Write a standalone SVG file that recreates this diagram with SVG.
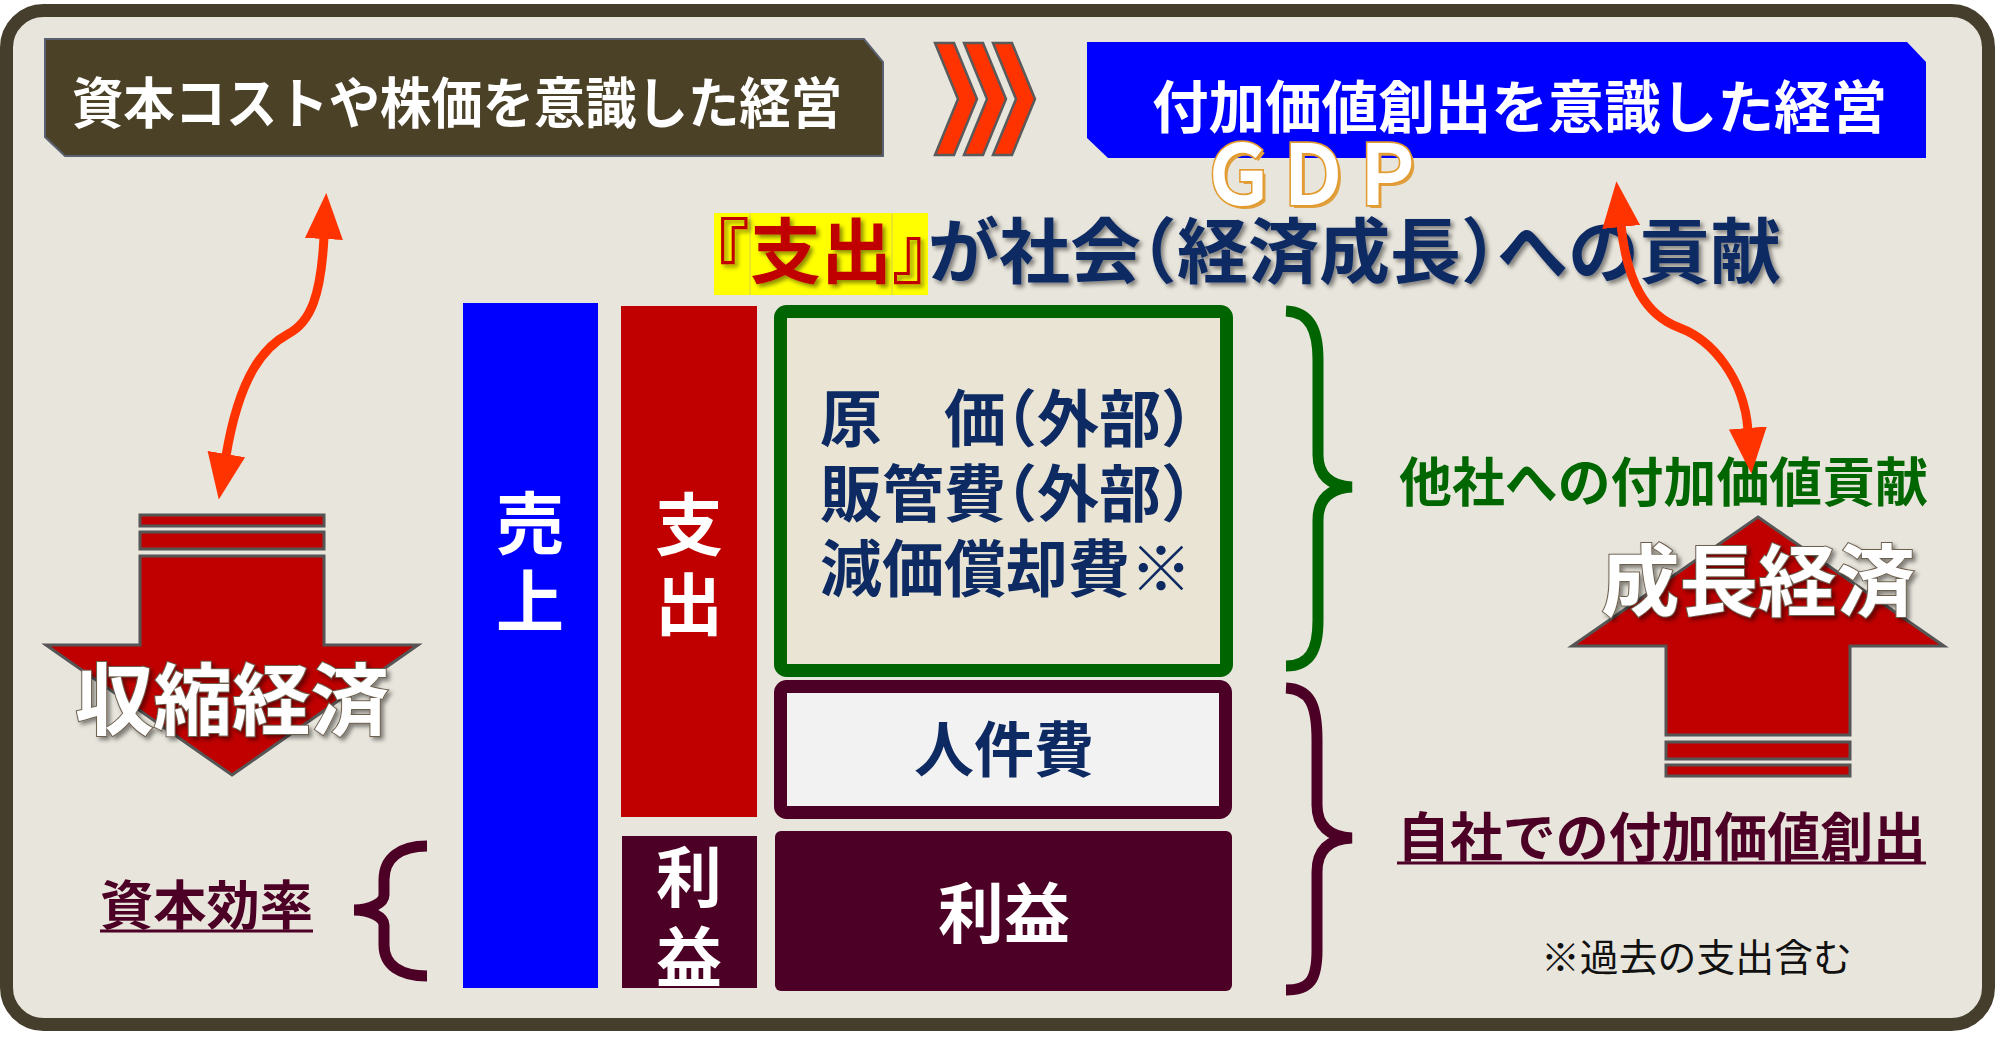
<svg xmlns="http://www.w3.org/2000/svg" width="2000" height="1038" viewBox="0 0 2000 1038">
<defs>
<style>
.jp{font-family:"Noto Sans CJK JP","Noto Sans CJK SC",sans-serif;}
.b{font-weight:700;}
.navy{fill:#0E2A63;}
.wh{fill:#FFFFFF;}
.bar{stroke:none;}
.arrow{fill:#C00000;stroke:#555555;stroke-width:3;stroke-linejoin:miter;}
.chev{fill:#FF3300;stroke:#5A5A5A;stroke-width:2.5;stroke-linejoin:miter;}
.brace{fill:none;stroke-width:11;stroke-linecap:butt;}
.curve{fill:none;stroke:#FF3300;stroke-width:9;marker-start:url(#ah);marker-end:url(#ah);}
.big{font-size:78px;font-weight:700;fill:#FFFFFF;stroke:#6E6050;stroke-width:2;paint-order:stroke;}
</style>
<filter id="sh" x="-10%" y="-20%" width="130%" height="150%">
<feDropShadow dx="3" dy="3" stdDeviation="2" flood-color="#000000" flood-opacity="0.45"/>
</filter>
<marker id="ah" viewBox="0 -20 46 40" refX="2" refY="0" markerWidth="46" markerHeight="40" markerUnits="userSpaceOnUse" orient="auto-start-reverse">
<path d="M0,-19 L46,0 L0,19 Z" fill="#FF3300"/>
</marker>
</defs>
<rect x="0" y="0" width="2000" height="1038" fill="#FFFFFF"/>
<rect id="frame" x="6.5" y="10.5" width="1982" height="1014" rx="37" fill="#E8E5DC" stroke="#463E2C" stroke-width="13"/>

<g id="box-left">
<path d="M45,39 L864,39 L883,62 L883,156 L65,156 L45,137 Z" fill="#4A4127" stroke="#5B6070" stroke-width="2"/>
<text class="jp b wh" x="72" y="123" font-size="55" textLength="770" lengthAdjust="spacingAndGlyphs">資本コストや株価を意識した経営</text>
</g>

<g id="chevrons">
<polygon class="chev" points="935,43 954,43 977,99 954,155 935,155 958,99"/>
<polygon class="chev" points="964,43 983,43 1006,99 983,155 964,155 987,99"/>
<polygon class="chev" points="993,43 1012,43 1035,99 1012,155 993,155 1016,99"/>
</g>

<g id="box-right">
<path d="M1087,42 L1907,42 L1926,62 L1926,158 L1108,158 L1087,138 Z" fill="#0000FF"/>
<text class="jp b wh" x="1152" y="128" font-size="57" textLength="735" lengthAdjust="spacingAndGlyphs">付加価値創出を意識した経営</text>
</g>

<g id="gdp">
<text class="jp b" x="1204" y="208" font-size="84" fill="#E0A040" textLength="224" lengthAdjust="spacingAndGlyphs">ＧＤＰ</text>
<text class="jp b" x="1201" y="205" font-size="84" fill="#FFFFFF" stroke="#E39A2E" stroke-width="3.5" paint-order="stroke" textLength="224" lengthAdjust="spacingAndGlyphs">ＧＤＰ</text>
</g>

<g id="subtitle">
<rect x="714" y="213" width="214" height="82" fill="#FFFF00"/>
<line x1="750" y1="213" x2="750" y2="295" stroke="#E2E236" stroke-width="1.5"/>
<line x1="892" y1="213" x2="892" y2="295" stroke="#E2E236" stroke-width="1.5"/>
<text class="jp b" y="277" font-size="71" filter="url(#sh)"><tspan fill="#C00000" x="678.5 750 821 892">『支出』</tspan><tspan class="navy" x="928 999 1070 1105.5 1177 1248 1319 1390 1461 1497 1568 1639 1710">が社会（経済成長）への貢献</tspan></text>
</g>

<g id="uriage">
<rect class="bar" x="463" y="303" width="135" height="685" fill="#0000FF"/>
<text class="jp b wh" x="530" y="549" font-size="68" text-anchor="middle">売</text>
<text class="jp b wh" x="530" y="627" font-size="68" text-anchor="middle">上</text>
</g>

<g id="shishutsu">
<rect class="bar" x="621" y="306" width="136" height="511" fill="#C00000"/>
<text class="jp b wh" x="689" y="550" font-size="68" text-anchor="middle">支</text>
<text class="jp b wh" x="689" y="630" font-size="68" text-anchor="middle">出</text>
</g>

<g id="rieki-bar">
<rect class="bar" x="622" y="836" width="135" height="152" fill="#4D0026"/>
<text class="jp b wh" x="689" y="902" font-size="66" text-anchor="middle">利</text>
<text class="jp b wh" x="689" y="982" font-size="66" text-anchor="middle">益</text>
</g>

<g id="cost-box">
<rect x="780.5" y="311.5" width="446" height="359" rx="6" fill="#E9E4D3" stroke="#006400" stroke-width="13"/>
<text class="jp b navy" font-size="62">
<tspan y="442" x="820 882 944 975 1037 1099 1161">原　価（外部）</tspan>
<tspan y="517" x="820 882 944 975 1037 1099 1161">販管費（外部）</tspan>
<tspan y="592" x="820 882 944 1006 1068 1130">減価償却費※</tspan>
</text>
</g>

<g id="jinkenhi">
<rect x="780.5" y="686.5" width="445" height="126" rx="6" fill="#F2F2F2" stroke="#4D0026" stroke-width="13"/>
<text class="jp b navy" x="1004" y="772" font-size="60" text-anchor="middle">人件費</text>
</g>

<g id="rieki-box">
<rect x="775" y="831" width="457" height="160" rx="6" fill="#4D0026"/>
<text class="jp b wh" x="1004" y="938" font-size="66" text-anchor="middle">利益</text>
</g>

<g id="braces">
<path class="brace" stroke="#006400" d="M1286,311 C1310,312 1318,330 1318,360 L1318,455 C1318,475 1330,486 1352,487 C1330,488 1318,499 1318,520 L1318,620 C1318,650 1310,666 1286,666"/>
<path class="brace" stroke="#4D0026" d="M1286,688 C1310,689 1317,705 1317,740 L1317,805 C1317,825 1328,837 1352,838 C1328,839 1317,851 1317,872 L1317,950 C1317,980 1310,990 1286,990"/>
<path class="brace" stroke="#4D0026" stroke-width="10" d="M427,846 C400,846 384,858 384,880 L384,895 C384,903 370,910 354,910 C370,910 384,917 384,925 L384,945 C384,965 400,976 427,976"/>
</g>

<g id="label-tasha">
<text class="jp b" x="1399" y="502" font-size="53" fill="#006600" textLength="529" lengthAdjust="spacingAndGlyphs">他社への付加価値貢献</text>
</g>

<g id="label-jisha">
<text class="jp b" x="1397" y="857" font-size="53" fill="#4D0026" textLength="529" lengthAdjust="spacingAndGlyphs">自社での付加価値創出</text>
<line x1="1397" y1="863" x2="1926" y2="863" stroke="#4D0026" stroke-width="3"/>
</g>

<g id="label-shihon">
<text class="jp b" x="100" y="925" font-size="53" fill="#4D0026" textLength="213" lengthAdjust="spacingAndGlyphs">資本効率</text>
<line x1="100" y1="931" x2="313" y2="931" stroke="#4D0026" stroke-width="3"/>
</g>

<g id="note">
<text class="jp" x="1541" y="971" font-size="38" fill="#111111" textLength="311" lengthAdjust="spacingAndGlyphs">※過去の支出含む</text>
</g>

<g id="down-arrow">
<rect class="arrow" x="140" y="515" width="184" height="11"/>
<rect class="arrow" x="140" y="532" width="184" height="17"/>
<polygon class="arrow" points="232,775 418,645 324,645 324,556 140,556 140,645 46,645"/>
<text class="jp big" x="75" y="729" textLength="314" lengthAdjust="spacingAndGlyphs" filter="url(#sh)">収縮経済</text>
</g>

<g id="up-arrow">
<polygon class="arrow" points="1758,517 1944,646 1850,646 1850,735 1666,735 1666,646 1572,646"/>
<rect class="arrow" x="1666" y="742" width="184" height="17"/>
<rect class="arrow" x="1666" y="765" width="184" height="11"/>
<text class="jp big" x="1601" y="610" textLength="314" lengthAdjust="spacingAndGlyphs" filter="url(#sh)">成長経済</text>
</g>

<g id="connectors">
<path class="curve" d="M324,237 C321,295 311,322 288,334 C266,346 240,372 226,456"/>
<path class="curve" d="M1621,225 C1627,282 1645,315 1680,328 C1712,340 1744,378 1748,430"/>
</g>
</svg>
